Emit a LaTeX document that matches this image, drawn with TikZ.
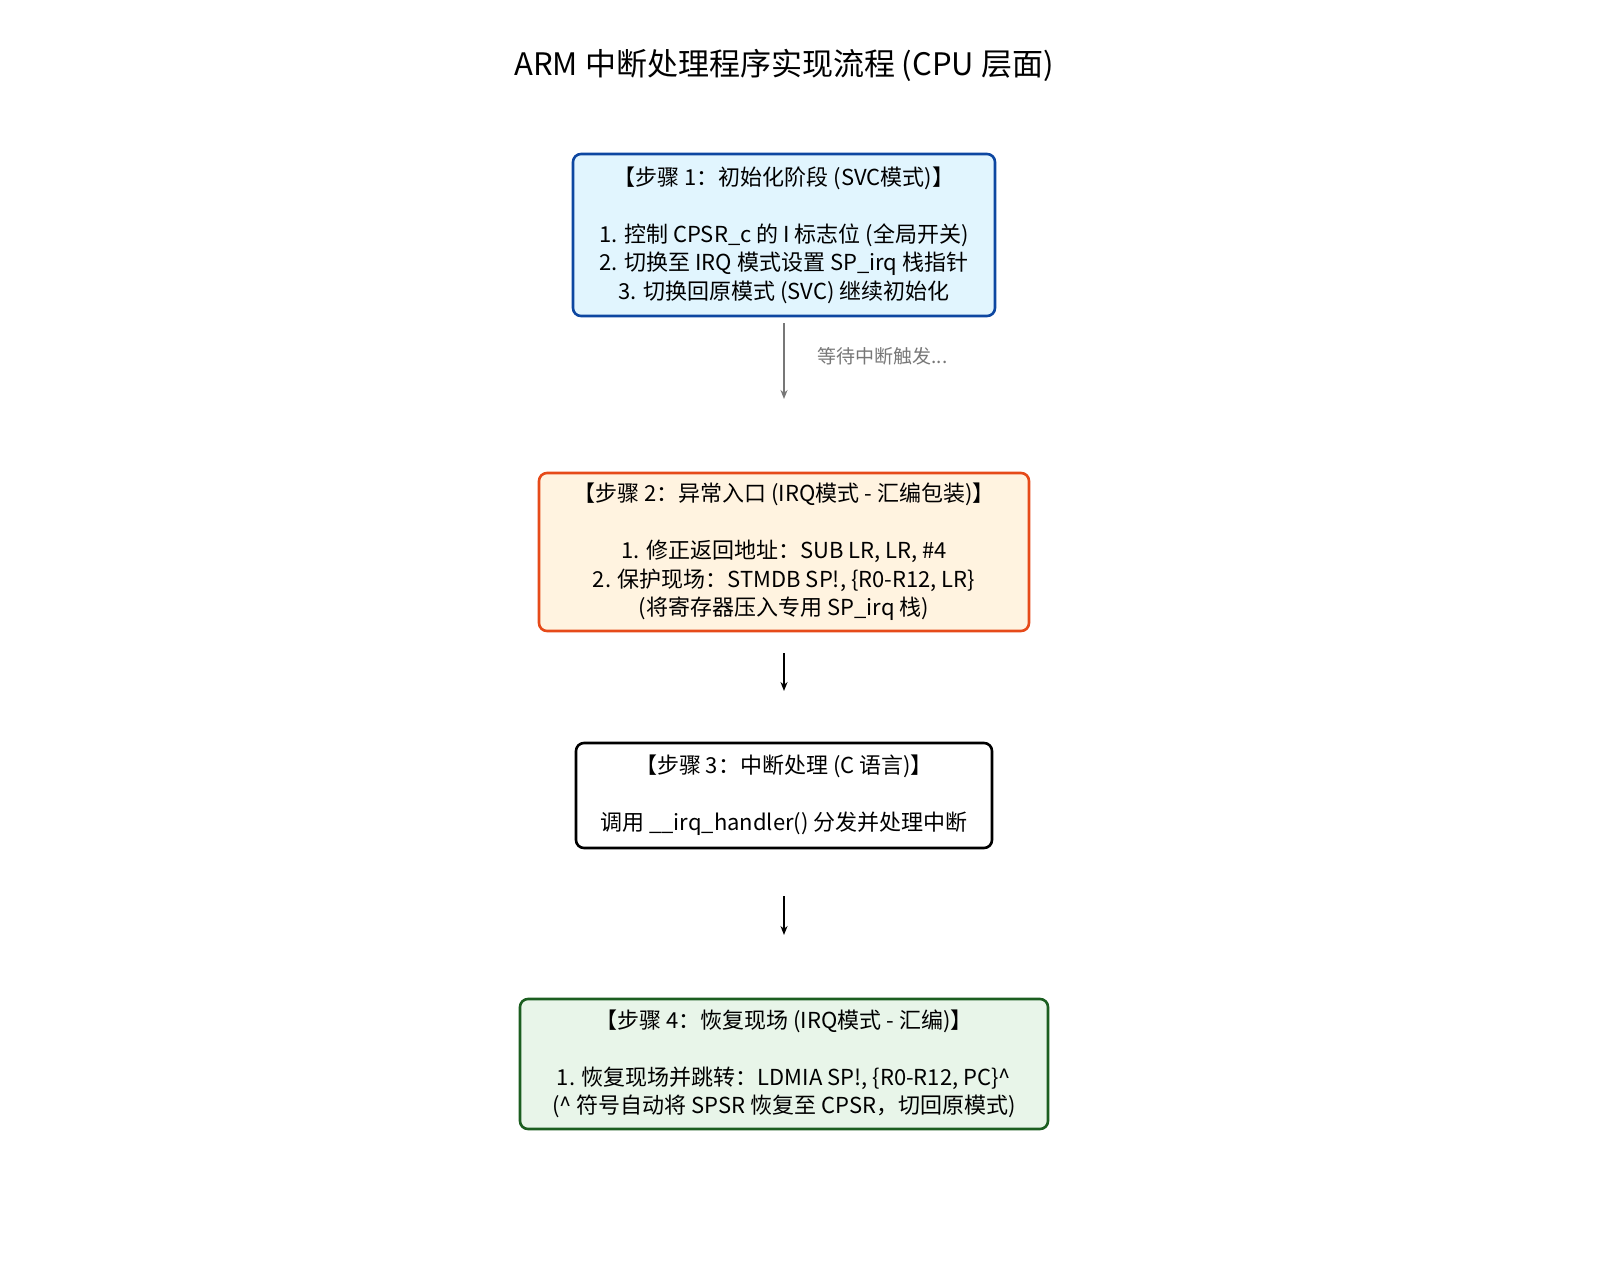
\documentclass[tikz,border=0pt]{standalone}
\usepackage{fontspec}
\usetikzlibrary{arrows.meta}
\setmainfont{Noto Sans CJK SC}
\definecolor{b1f}{HTML}{E1F5FE}\definecolor{b1d}{HTML}{0D47A1}
\definecolor{b2f}{HTML}{FFF3E0}\definecolor{b2d}{HTML}{E64A19}
\definecolor{b4f}{HTML}{E8F5E9}\definecolor{b4d}{HTML}{1B5E20}
\definecolor{gr}{HTML}{777777}
\begin{document}
\begin{tikzpicture}[x=1pt,y=-1pt,
  box/.style={draw,line width=2.6pt,rounded corners=8pt,align=center,inner sep=0pt,
    font=\fontsize{22}{28.5}\selectfont},
  arr/.style={-{Stealth[length=9pt,width=7pt]},line width=2.2pt}]
\useasboundingbox (0,0) rectangle (1600,1277);
\node[font=\fontsize{31}{36}\selectfont] (t) at (784,65) {ARM 中断处理程序实现流程 (CPU 层面)};
\node[box,fill=b1f,draw=b1d,minimum width=422pt,minimum height=162pt] (s1) at (784,235)
 {【步骤 1：初始化阶段 (SVC模式)】\\[28.5pt]1. 控制 CPSR\_c 的 I 标志位 (全局开关)\\2. 切换至 IRQ 模式设置 SP\_irq 栈指针\\3. 切换回原模式 (SVC) 继续初始化};
\node[box,fill=b2f,draw=b2d,minimum width=490pt,minimum height=158pt] (s2) at (784,552)
 {【步骤 2：异常入口 (IRQ模式 - 汇编包装)】\\[28.5pt]1. 修正返回地址：SUB LR, LR, \#4\\2. 保护现场：STMDB SP!, \{R0-R12, LR\}\\(将寄存器压入专用 SP\_irq 栈)};
\node[box,fill=white,draw=black,minimum width=416pt,minimum height=105pt] (s3) at (784,795.5)
 {【步骤 3：中断处理 (C 语言)】\\[28.5pt]调用 \_\_irq\_handler() 分发并处理中断};
\node[box,fill=b4f,draw=b4d,minimum width=528pt,minimum height=130pt] (s4) at (784,1064)
 {【步骤 4：恢复现场 (IRQ模式 - 汇编)】\\[28.5pt]1. 恢复现场并跳转：LDMIA SP!, \{R0-R12, PC\}\^{}\\(\^{} 符号自动将 SPSR 恢复至 CPSR，切回原模式)};
\coordinate (a1) at (784,323); \coordinate (a1e) at (784,399);
\coordinate (a2) at (784,653); \coordinate (a2e) at (784,691);
\coordinate (a3) at (784,896); \coordinate (a3e) at (784,935);
\draw[arr,gr] (a1) -- (a1e);
\node[gr,anchor=west,font=\fontsize{19}{22}\selectfont] (l1) at (814,356) {等待中断触发...};
\draw[arr] (a2) -- (a2e);
\draw[arr] (a3) -- (a3e);
\end{tikzpicture}
\end{document}
